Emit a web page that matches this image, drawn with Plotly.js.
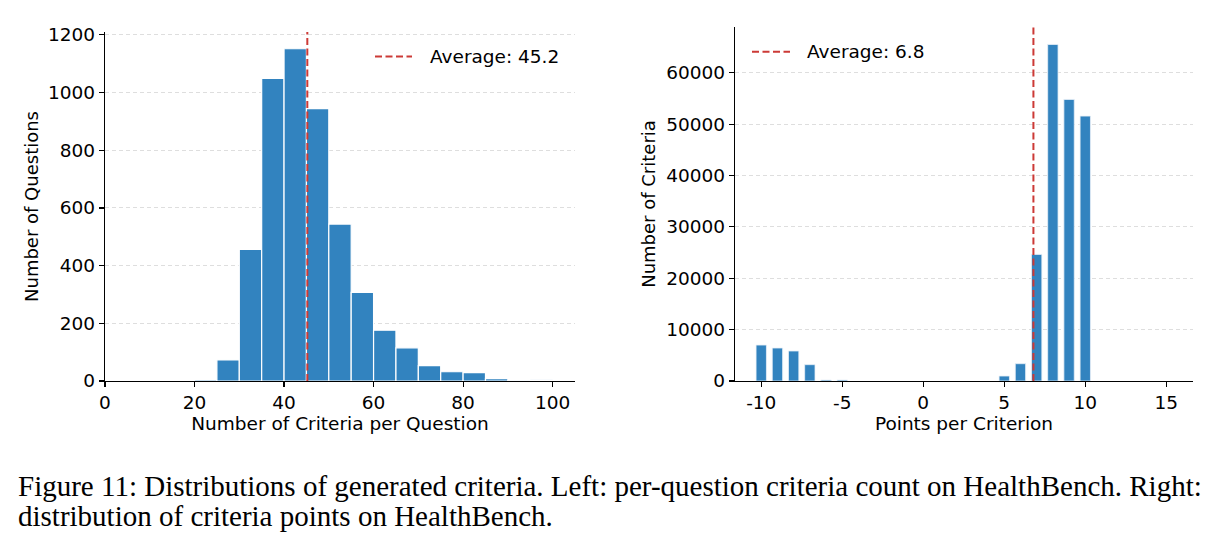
<!DOCTYPE html>
<html>
<head>
<meta charset="utf-8">
<script src="https://cdn.plot.ly/plotly-3.0.1.min.js"></script>
<style>html,body{margin:0;padding:0;background:#fff;}#chart{width:1222px;height:546px;}</style>
</head>
<body>
<div id="chart"></div>
<script>
// Left: per-question criteria count (histogram, bin width 5)
const leftBinStarts = [20, 25, 30, 35, 40, 45, 50, 55, 60, 65, 70, 75, 80, 85, 90, 95];
const leftCounts    = [5, 73, 456, 1049, 1152, 944, 544, 307, 176, 115, 53, 32, 29, 8, 1, 4];
const leftAverage = 45.2;

// Right: points per criterion
const rightPoints = [-10, -9, -8, -7, -6, -5, 5, 6, 7, 8, 9, 10];
const rightCounts = [7000, 6420, 5840, 3180, 200, 200, 970, 3370, 24640, 65500, 54800, 51560];
const rightAverage = 6.8;

const leftTickVals = [0, 20, 40, 60, 80, 100];
const leftYTicks = [0, 200, 400, 600, 800, 1000, 1200];
const rightTickVals = [-10, -5, 0, 5, 10, 15];
const rightTickText = ["-10", "-5", "0", "5", "10", "15"];
const rightYTicks = [0, 10000, 20000, 30000, 40000, 50000, 60000];
const rightYTickText = ["0", "10000", "20000", "30000", "40000", "50000", "60000"];

const captionLines = [
  "Figure 11: Distributions of generated criteria. Left: per-question criteria count on HealthBench. Right:",
  "distribution of criteria points on HealthBench."
];

const barColor = '#3283bf';
const avgColor = '#cc3a36';
const avgDash = '7px,3.5px';
const leftYMax = 1210;
const rightYMax = 68900;
const W = 1222, H = 546;
const font = 'DejaVu Sans, sans-serif';
const fs = 18.5;
const px = v => v / W;
const py = v => 1 - v / H;

const traces = [
  {type: 'bar', x: leftBinStarts, y: leftCounts, width: 5, offset: 0,
   marker: {color: barColor, line: {color: '#ffffff', width: 1.2}},
   xaxis: 'x', yaxis: 'y', showlegend: false},
  {type: 'scatter', mode: 'lines', x: [leftAverage, leftAverage], y: [0, leftYMax],
   line: {color: avgColor, width: 2, dash: avgDash}, name: 'Average: ' + leftAverage.toFixed(1),
   xaxis: 'x', yaxis: 'y', showlegend: false},
  {type: 'bar', x: rightPoints, y: rightCounts, width: 0.64,
   marker: {color: barColor, line: {color: '#e8f0f8', width: 0.8}},
   xaxis: 'x2', yaxis: 'y2', showlegend: false},
  {type: 'scatter', mode: 'lines', x: [rightAverage, rightAverage], y: [0, rightYMax],
   line: {color: avgColor, width: 2, dash: avgDash}, name: 'Average: ' + rightAverage.toFixed(1),
   xaxis: 'x2', yaxis: 'y2', showlegend: false}
];

const axisCommon = {
  showline: true, linecolor: '#000', linewidth: 1.2,
  ticks: 'outside', ticklen: 5, tickwidth: 1.2, tickcolor: '#000',
  tickfont: {family: font, size: fs, color: '#000'},
  zeroline: false, fixedrange: true
};
const titleFont = {family: font, size: fs, color: '#000'};

// legend drawn by hand: dashed sample + label
const legends = [
  {x0: 375, x1: 412, tx: 428, y: 56.5, label: 'Average: ' + leftAverage.toFixed(1)},
  {x0: 752, x1: 790, tx: 805, y: 51.7, label: 'Average: ' + rightAverage.toFixed(1)}
];

const layout = {
  width: W, height: H,
  margin: {l: 0, r: 0, t: 0, b: 0},
  paper_bgcolor: '#fff', plot_bgcolor: '#fff',
  font: {family: font, color: '#000'},
  showlegend: false,
  bargap: 0,
  xaxis: Object.assign({}, axisCommon, {
    domain: [px(105), px(575)], range: [0, 105], anchor: 'y',
    tickvals: leftTickVals, showgrid: false,
    title: {text: 'Number of Criteria per Question', font: titleFont, standoff: 3}
  }),
  yaxis: Object.assign({}, axisCommon, {
    domain: [py(381), py(32)], range: [0, leftYMax], anchor: 'x',
    tickvals: leftYTicks, showgrid: true, gridcolor: '#dedede', griddash: '4px,3px', gridwidth: 1,
    title: {text: 'Number of Questions', font: {family: font, size: 18, color: '#000'}, standoff: 4}
  }),
  xaxis2: Object.assign({}, axisCommon, {
    domain: [px(735), px(1193)], range: [-11.62, 16.65], anchor: 'y2',
    tickvals: rightTickVals, ticktext: rightTickText, showgrid: false,
    title: {text: 'Points per Criterion', font: titleFont, standoff: 3}
  }),
  yaxis2: Object.assign({}, axisCommon, {
    domain: [py(381), py(27)], range: [0, rightYMax], anchor: 'x2',
    tickvals: rightYTicks, ticktext: rightYTickText, showgrid: true, gridcolor: '#dedede', griddash: '4px,3px', gridwidth: 1,
    title: {text: 'Number of Criteria', font: {family: font, size: 18, color: '#000'}, standoff: 6}
  }),
  shapes: legends.map(l => ({
    type: 'line', xref: 'paper', yref: 'paper', x0: px(l.x0), x1: px(l.x1), y0: py(l.y), y1: py(l.y),
    line: {color: avgColor, width: 2, dash: avgDash}
  })),
  annotations: legends.map(l => ({
    text: l.label, xref: 'paper', yref: 'paper', x: px(l.tx), y: py(l.y),
    xanchor: 'left', yanchor: 'middle', showarrow: false,
    font: {family: font, size: fs, color: '#000'}
  })).concat(captionLines.map((t, i) => ({
    text: t, xref: 'paper', yref: 'paper', x: px(16), y: py(486 + 30 * i),
    xanchor: 'left', yanchor: 'middle', showarrow: false,
    font: {family: 'Liberation Serif, serif', size: 29, color: '#000'}
  })))
};

Plotly.newPlot('chart', traces, layout, {staticPlot: true, displayModeBar: false});
</script>
</body>
</html>
